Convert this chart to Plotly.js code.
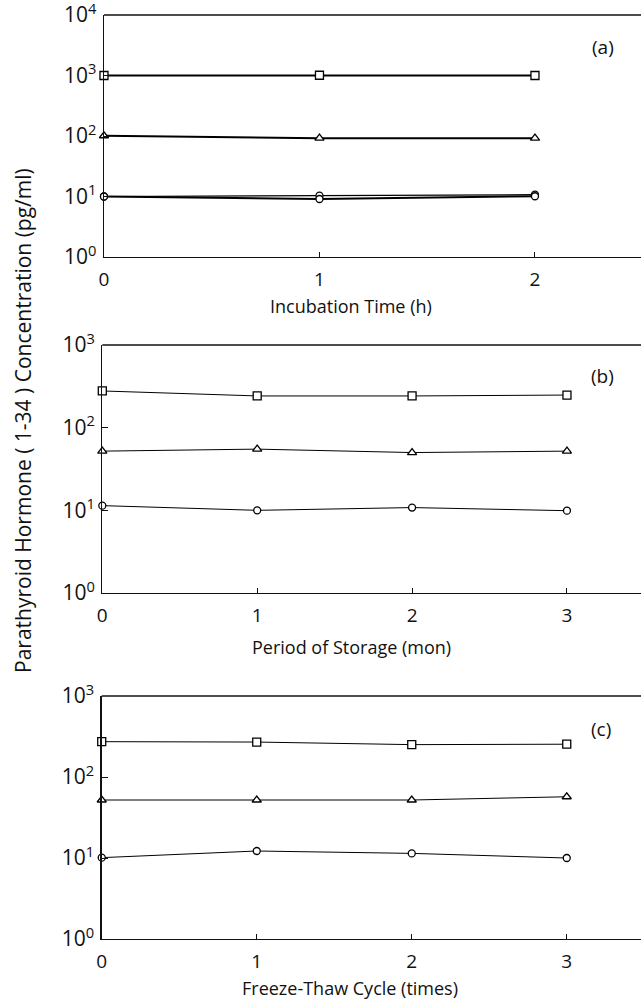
<!DOCTYPE html>
<html><head><meta charset="utf-8">
<script src="https://cdn.plot.ly/plotly-3.0.1.min.js"></script>
<style>html,body{margin:0;padding:0;background:#fff}</style>
</head><body>
<div id="chart" style="width:641px;height:1000px"></div>
<script>
// Panel (a): Incubation Time (h)
const xA = [0, 1, 2];
const aSquare = [1000, 1010, 1000];
const aTriangle = [101, 92, 92];
const aCircle1 = [10, 9.1, 10.1];
const aCircle2 = [10, 10.3, 10.7];
// Panel (b): Period of Storage (mon)
const xB = [0, 1, 2, 3];
const bSquare = [278, 242, 242, 248];
const bTriangle = [52, 55, 50, 52];
const bCircle = [11.4, 10.0, 10.8, 9.9];
// Panel (c): Freeze-Thaw Cycle (times)
const xC = [0, 1, 2, 3];
const cSquare = [273, 270, 251, 254];
const cTriangle = [52, 52, 52, 57];
const cCircle = [10.1, 12.2, 11.4, 10.0];
// Tick labels
const yTickValsA = [1, 10, 100, 1000, 10000];
const yTickTextA = ['10<sup>0</sup>', '10<sup>1</sup>', '10<sup>2</sup>', '10<sup>3</sup>', '10<sup>4</sup>'];
const yTickValsBC = [1, 10, 100, 1000];
const yTickTextBC = ['10<sup>0</sup>', '10<sup>1</sup>', '10<sup>2</sup>', '10<sup>3</sup>'];
const xTicksA = [0, 1, 2];
const xTicksBC = [0, 1, 2, 3];
// Texts
const yTitle = 'Parathyroid Hormone ( 1-34 ) Concentration (pg/ml)';
const xTitles = ['Incubation Time (h)', 'Period of Storage (mon)', 'Freeze-Thaw Cycle (times)'];
const panelLabels = ['(a)', '(b)', '(c)'];

const FONT = 'Open Sans, Noto Sans, sans-serif';

function tr(x, y, sym, xa, ya, lw, msize) {
  return {
    x: x, y: y, xaxis: xa, yaxis: ya, type: 'scatter', mode: 'lines+markers',
    line: {color: '#000', width: lw},
    marker: {symbol: sym, size: msize, color: '#fff', line: {color: '#000', width: 1.3}},
    showlegend: false, cliponaxis: false
  };
}

const data = [
  tr(xA, aCircle2, 'circle', 'x', 'y', 1.2, 7),
  tr(xA, aCircle1, 'circle', 'x', 'y', 2, 7),
  tr(xA, aTriangle, 'triangle-up', 'x', 'y', 2, 8),
  tr(xA, aSquare, 'square', 'x', 'y', 2, 8),
  tr(xB, bCircle, 'circle', 'x2', 'y2', 1, 7),
  tr(xB, bTriangle, 'triangle-up', 'x2', 'y2', 1, 8),
  tr(xB, bSquare, 'square', 'x2', 'y2', 1, 8),
  tr(xC, cCircle, 'circle', 'x3', 'y3', 1, 7),
  tr(xC, cTriangle, 'triangle-up', 'x3', 'y3', 1, 8),
  tr(xC, cSquare, 'square', 'x3', 'y3', 1, 8)
];

function xax(dom, rng, ticks, anchor) {
  return {
    domain: dom, range: rng, anchor: anchor, showgrid: false, zeroline: false,
    showline: true, linecolor: '#111', linewidth: 1.3,
    ticks: 'inside', ticklen: 5, tickwidth: 1, tickcolor: '#111',
    tickvals: ticks, ticktext: ticks.map(String),
    tickfont: {family: FONT, size: 19, color: '#111'}, ticklabelstandoff: 5,
    ticklabeloverflow: 'allow'
  };
}
function yax(dom, rng, vals, text, anchor) {
  return {
    domain: dom, type: 'log', range: rng, anchor: anchor, showgrid: false, zeroline: false,
    showline: true, linecolor: '#111', linewidth: 1.3,
    ticks: 'inside', ticklen: 6, tickwidth: 1, tickcolor: '#111',
    tickvals: vals, ticktext: text,
    tickfont: {family: FONT, size: 21, color: '#111'}, ticklabelstandoff: 2,
    ticklabeloverflow: 'allow'
  };
}

const layout = {
  width: 641, height: 1000,
  margin: {l: 0, r: 0, t: 0, b: 0},
  paper_bgcolor: '#fff', plot_bgcolor: '#fff',
  font: {family: FONT, color: '#111'},
  xaxis: xax([0.1622, 1], [0, 2.492], xTicksA, 'y'),
  yaxis: yax([0.743, 0.985], [0, 4], yTickValsA, yTickTextA, 'x'),
  xaxis2: xax([0.1596, 1], [0, 3.478], xTicksBC, 'y2'),
  yaxis2: yax([0.407, 0.655], [0, 3], yTickValsBC, yTickTextBC, 'x2'),
  xaxis3: xax([0.1587, 1], [0, 3.479], xTicksBC, 'y3'),
  yaxis3: yax([0.061, 0.304], [0, 3], yTickValsBC, yTickTextBC, 'x3'),
  shapes: [
    {type: 'line', xref: 'x domain', yref: 'y domain', x0: 0, x1: 1, y0: 1, y1: 1, line: {color: '#111', width: 1.3}},
    {type: 'line', xref: 'x2 domain', yref: 'y2 domain', x0: 0, x1: 1, y0: 1, y1: 1, line: {color: '#111', width: 1.3}},
    {type: 'line', xref: 'x3 domain', yref: 'y3 domain', x0: 0, x1: 1, y0: 1, y1: 1, line: {color: '#111', width: 1.3}}
  ],
  annotations: [
    {text: yTitle, xref: 'paper', yref: 'paper', x: 23/641, y: 1 - 421/1000, textangle: -90, showarrow: false,
     font: {family: FONT, size: 21, color: '#111'}, xanchor: 'center', yanchor: 'middle'},
    {text: xTitles[0], xref: 'paper', yref: 'paper', x: 351/641, y: 1 - 306/1000, showarrow: false,
     font: {family: FONT, size: 18, color: '#111'}, xanchor: 'center', yanchor: 'middle'},
    {text: xTitles[1], xref: 'paper', yref: 'paper', x: 351/641, y: 1 - 647/1000, showarrow: false,
     font: {family: FONT, size: 18, color: '#111'}, xanchor: 'center', yanchor: 'middle'},
    {text: xTitles[2], xref: 'paper', yref: 'paper', x: 350/641, y: 1 - 988/1000, showarrow: false,
     font: {family: FONT, size: 18, color: '#111'}, xanchor: 'center', yanchor: 'middle'},
    {text: panelLabels[0], xref: 'paper', yref: 'paper', x: 603/641, y: 1 - 47/1000, showarrow: false,
     font: {family: FONT, size: 19, color: '#111'}, xanchor: 'center', yanchor: 'middle'},
    {text: panelLabels[1], xref: 'paper', yref: 'paper', x: 602/641, y: 1 - 376/1000, showarrow: false,
     font: {family: FONT, size: 19, color: '#111'}, xanchor: 'center', yanchor: 'middle'},
    {text: panelLabels[2], xref: 'paper', yref: 'paper', x: 601/641, y: 1 - 729/1000, showarrow: false,
     font: {family: FONT, size: 19, color: '#111'}, xanchor: 'center', yanchor: 'middle'}
  ]
};

Plotly.newPlot('chart', data, layout, {staticPlot: true, displayModeBar: false});
</script>
</body></html>
